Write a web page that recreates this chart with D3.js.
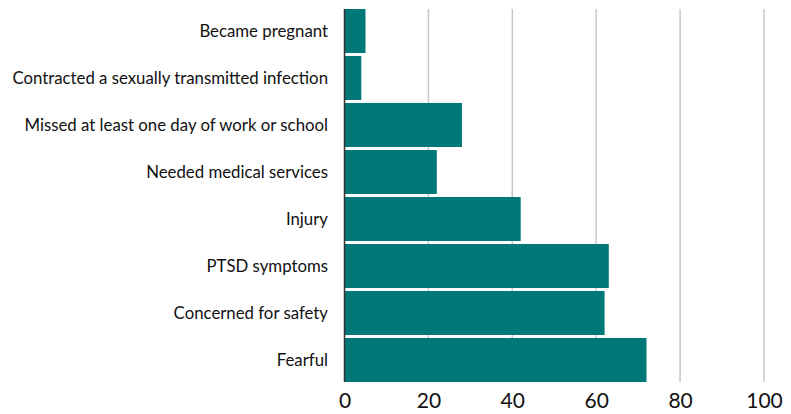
<!DOCTYPE html>
<html>
<head>
<meta charset="utf-8">
<script src="https://cdn.jsdelivr.net/npm/d3@7"></script>
<style>
  body { margin: 0; background: #fff; }
  text { font-family: Lato, "Open Sans", sans-serif; fill: #111; }
</style>
</head>
<body>
<div id="chart"></div>
<script>
/* DATA */
const categories = [
  "Became pregnant",
  "Contracted a sexually transmitted infection",
  "Missed at least one day of work or school",
  "Needed medical services",
  "Injury",
  "PTSD symptoms",
  "Concerned for safety",
  "Fearful"
];
const values = [5, 4, 28, 22, 42, 63, 62, 72];
const xTicks = [0, 20, 40, 60, 80, 100];

/* CONSTANTS */
const width = 791,
  height = 414,
  barColor = "#007878";

const data = categories.map((c, i) => ({ label: c, value: values[i] }));

const svg = d3.select("#chart")
  .append("svg")
  .attr("width", width)
  .attr("height", height);

// scales
const xScale = d3.scaleLinear()
  .domain([0, 100])
  .range([344.5, 764]);

const yScale = d3.scaleBand()
  .domain(categories)
  .range([7.5, 383.5])
  .paddingInner(3 / 47)
  .paddingOuter(1.5 / 47);

const plotTop = yScale(categories[0]);
const plotBottom = yScale(categories[categories.length - 1]) + yScale.bandwidth();

// gridlines
svg.append("g")
  .selectAll("line")
  .data(xTicks.filter(d => d > 0))
  .join("line")
  .attr("x1", d => xScale(d))
  .attr("x2", d => xScale(d))
  .attr("y1", plotTop)
  .attr("y2", plotBottom)
  .attr("stroke", "#c8c8c8")
  .attr("stroke-width", 1.5);

// bars
svg.append("g")
  .selectAll("rect")
  .data(data)
  .join("rect")
  .attr("x", xScale(0))
  .attr("y", d => yScale(d.label))
  .attr("width", d => xScale(d.value) - xScale(0))
  .attr("height", yScale.bandwidth())
  .attr("fill", barColor);

// y axis line + category labels
svg.append("line")
  .attr("x1", xScale(0))
  .attr("x2", xScale(0))
  .attr("y1", plotTop)
  .attr("y2", plotBottom)
  .attr("stroke", "#333")
  .attr("stroke-width", 1.5);

svg.append("g")
  .selectAll("text")
  .data(categories)
  .join("text")
  .attr("x", 328)
  .attr("y", d => yScale(d) + yScale.bandwidth() / 2)
  .attr("dy", "0.35em")
  .attr("text-anchor", "end")
  .style("font-size", "16.8px")
  .text(d => d);

// x axis
const xAxis = d3.axisBottom(xScale)
  .tickValues(xTicks)
  .tickSize(0)
  .tickPadding(11);

const xAxisGroup = svg.append("g")
  .attr("transform", `translate(0, ${plotBottom})`)
  .call(xAxis);
xAxisGroup.select(".domain").remove();
xAxisGroup.selectAll("text")
  .style("font-size", "21px")
  .attr("fill", "#111");
</script>
</body>
</html>
